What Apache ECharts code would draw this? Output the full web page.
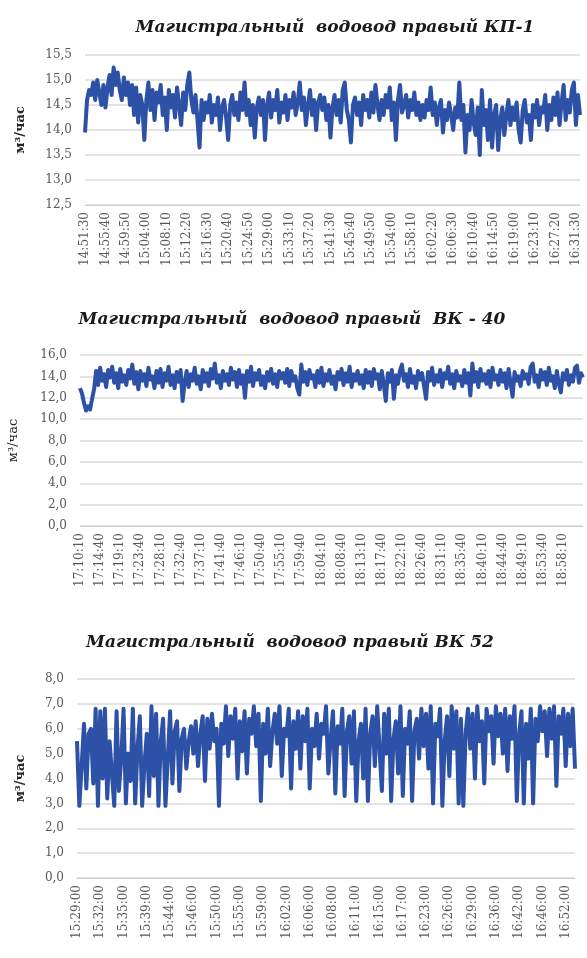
<!DOCTYPE html>
<html><head><meta charset="utf-8">
<script src="https://cdn.jsdelivr.net/npm/echarts/dist/echarts.min.js"></script>
<style>html,body{margin:0;padding:0;background:#fff}#c{width:587px;height:958px}</style>
</head><body><div id="c"></div>
<script>
const titles = [
  'Магистральный  водовод правый КП-1',
  'Магистральный  водовод правый  ВК - 40',
  'Магистральный  водовод правый ВК 52'
];
const yName = 'м³/час';

const ticks1 = ['14:51:30','14:55:40','14:59:50','15:04:00','15:08:10','15:12:20','15:16:30','15:20:40','15:24:50','15:29:00','15:33:10','15:37:20','15:41:30','15:45:40','15:49:50','15:54:00','15:58:10','16:02:20','16:06:30','16:10:40','16:14:50','16:19:00','16:23:10','16:27:20','16:31:30'];
const ticks2 = ['17:10:10','17:14:40','17:19:10','17:23:40','17:28:10','17:32:40','17:37:10','17:41:40','17:46:10','17:50:40','17:55:10','17:59:40','18:04:10','18:08:40','18:13:10','18:17:40','18:22:10','18:26:40','18:31:10','18:35:40','18:40:10','18:44:40','18:49:10','18:53:40','18:58:10'];
const ticks3 = ['15:29:00','15:32:00','15:35:00','15:39:00','15:44:00','15:46:00','15:50:00','15:55:00','15:59:00','16:02:00','16:06:00','16:08:00','16:11:00','16:15:00','16:17:00','16:23:00','16:26:00','16:29:00','16:36:00','16:42:00','16:46:00','16:52:00'];

const values1 = [
13.95,14.6,14.8,14.7,14.95,14.6,15.0,14.75,14.5,14.9,14.45,14.85,15.1,14.7,15.25,14.9,15.15,14.8,14.6,15.05,14.7,14.95,14.5,
14.9,14.3,14.85,14.15,14.7,14.5,13.8,14.6,14.95,14.4,14.8,14.2,14.75,14.55,14.9,14.3,14.65,14.0,14.8,14.45,14.7,14.25,14.85,14.5,14.1,14.75,14.4,14.9,15.15,14.6,14.35,14.7,14.2,13.65,
14.6,14.2,14.55,14.35,14.7,14.15,14.5,14.3,14.65,14.0,14.45,14.6,14.25,13.8,14.5,14.7,14.3,14.55,14.2,14.75,14.4,14.95,14.3,14.6,14.1,14.5,13.85,14.45,14.65,
14.3,14.6,13.8,14.5,14.75,14.25,14.6,14.4,14.8,14.15,14.55,14.35,14.7,14.2,14.6,14.45,14.75,14.3,14.55,14.95,14.4,14.65,14.1,14.5,14.8,14.3,14.6,14.0,14.55,14.7,
14.4,14.65,14.2,14.5,13.85,14.45,14.7,14.3,14.6,14.15,14.8,14.95,14.4,14.2,13.75,14.5,14.65,14.3,14.55,14.1,14.7,14.4,14.6,14.25,14.75,14.35,14.9,14.5,14.2,
14.6,14.3,14.7,14.45,14.85,14.2,14.55,13.8,14.6,14.9,14.35,14.5,14.7,14.25,14.6,14.4,14.75,14.3,14.55,14.2,
14.5,14.25,14.6,14.4,14.85,14.3,14.55,14.1,14.45,14.6,13.95,14.4,14.2,14.55,14.3,14.0,14.45,14.25,14.95,
14.2,14.5,13.55,14.3,14.0,14.6,14.15,13.9,14.45,13.5,14.8,14.1,14.4,13.8,14.6,13.65,14.3,14.5,13.6,14.2,14.45,13.9,14.3,14.6,14.1,
14.45,14.2,14.55,14.0,13.75,14.4,14.6,14.15,14.3,13.8,14.5,14.25,14.6,14.1,14.45,14.35,14.7,14.0,14.5,14.2,14.65,14.3,14.75,14.1,14.55,14.9,14.2,14.6,14.35,14.8,14.95,14.1,14.7,14.3
];
const values2 = [
12.9,12.4,11.5,10.8,11.2,10.9,11.9,12.8,
14.5,13.2,14.8,13.6,14.2,13.0,14.6,13.9,14.9,13.4,14.3,12.9,14.7,13.5,14.1,13.2,14.6,13.8,15.1,13.3,14.4,12.8,14.5,13.6,14.2,13.1,14.8,13.7,14.0,12.9,14.5,13.4,14.7,13.0,14.3,13.6,14.9,13.2,14.1,12.9,14.4,13.5,14.6,
11.7,13.4,14.5,13.0,14.2,13.6,14.8,13.3,14.0,12.8,14.6,13.5,14.3,13.1,14.7,13.8,15.2,13.4,14.1,12.9,14.5,13.6,14.2,13.2,14.8,13.7,14.4,13.0,14.6,13.3,14.1,12.0,14.5,13.5,14.9,13.1,14.3,13.7,14.6,13.2,14.0,12.9,14.4,13.6,14.7,13.3,14.2,13.0,14.5,13.8,
14.3,13.4,14.7,13.1,14.5,13.6,14.0,12.9,12.3,15.1,13.5,14.4,13.2,14.6,13.8,14.1,13.0,14.5,13.4,14.8,13.1,14.2,13.6,14.6,13.3,14.0,12.8,14.4,13.7,14.7,13.2,14.3,13.5,14.9,13.0,14.2,13.6,14.5,13.3,14.1,12.9,14.6,13.4,14.4,13.1,14.7,13.8,14.2,12.8,14.5,
13.2,11.7,14.3,13.5,14.6,11.9,14.1,13.3,14.5,15.1,13.6,14.2,13.0,14.7,13.4,14.0,12.9,14.5,13.7,14.3,13.1,11.9,14.4,13.6,14.8,13.2,14.1,13.5,14.6,13.0,14.3,13.8,14.9,13.3,14.2,12.9,14.5,13.6,14.0,13.1,14.6,13.4,14.3,12.2,15.2,13.5,14.4,13.0,14.7,13.6,
14.2,13.3,14.5,13.0,14.8,13.7,14.1,13.2,14.6,13.5,14.3,12.9,14.7,13.4,12.1,14.4,13.6,14.0,13.1,14.5,13.8,14.2,13.3,14.9,15.2,13.5,14.1,13.0,14.6,13.7,14.4,13.2,14.8,13.6,14.0,12.9,14.5,13.3,12.5,14.3,13.7,14.6,13.2,14.1,13.5,14.8,15.0,13.4,14.3,13.9
];
const values3 = [
5.5,2.9,4.5,6.2,3.6,5.8,6.0,3.8,6.8,2.9,6.7,
4.0,6.8,3.2,5.5,4.2,2.9,6.7,3.5,4.8,6.8,3.0,5.0,3.9,
6.8,3.0,5.2,6.5,2.9,4.6,5.8,3.3,6.9,4.1,6.6,2.9,5.5,
6.4,2.9,4.8,6.7,3.8,5.9,6.3,3.5,5.6,6.0,4.4,5.5,
6.1,5.0,6.3,4.5,5.8,6.5,3.9,6.4,5.2,6.6,5.5,6.0,2.9,
6.2,5.4,6.9,4.9,6.5,5.6,6.8,4.0,6.3,5.1,6.7,4.2,6.4,5.8,6.9,5.3,6.6,
3.1,6.2,5.0,6.8,4.5,5.9,6.6,5.4,6.9,4.1,6.0,5.7,6.8,3.6,6.3,5.2,6.7,
4.4,6.5,5.5,6.8,3.6,6.0,5.3,6.6,4.8,6.2,5.8,6.9,4.2,5.6,6.7,3.4,6.1,5.4,
6.8,3.3,5.9,6.5,4.6,6.7,3.1,5.5,6.2,4.0,6.8,3.1,5.8,6.5,4.5,6.9,5.2,
3.5,6.6,5.0,6.8,3.1,5.6,6.3,4.2,6.9,3.3,6.0,5.4,6.7,3.1,5.9,6.4,4.8,
6.8,5.3,6.6,4.4,6.9,3.0,6.2,5.7,6.8,2.9,5.5,6.5,4.1,6.9,5.2,6.7,3.0,
6.4,2.9,5.8,6.8,5.2,6.6,4.0,6.9,5.5,6.3,3.8,6.8,5.9,6.5,4.6,6.9,5.7,
6.6,5.0,6.8,4.3,6.5,5.6,6.9,3.1,5.8,6.7,3.0,6.2,4.8,6.8,3.0,6.4,
5.5,6.9,5.9,6.7,4.9,6.8,5.6,6.9,3.7,6.5,5.8,6.8,4.5,6.6,5.3,6.8,4.4
];

const LINE = '#2d51a6';
const GRID_C = '#dadada';
const LBL = '#595959';
const FONT = 'DejaVu Serif';

const panels = [
  {vals: values1, ticks: ticks1, min: 12.5, max: 15.5, step: 0.5, grid: {left: 85, right: 7, top: 55, height: 150}, title: {x: 335, y: 19}, nameGap: 58, nameBold: true},
  {vals: values2, ticks: ticks2, min: 0, max: 16, step: 2, grid: {left: 80, right: 4, top: 355, height: 171}, title: {x: 292, y: 311}, nameGap: 60, nameBold: false},
  {vals: values3, ticks: ticks3, min: 0, max: 8, step: 1, grid: {left: 77, right: 12, top: 679, height: 199}, title: {x: 290, y: 634}, nameGap: 50, nameBold: true}
];

const chart = echarts.init(document.getElementById('c'), null, {renderer: 'canvas'});
const option = {
  animation: false,
  backgroundColor: '#fff',
  title: panels.map((p, i) => ({
    text: titles[i], left: p.title.x, top: p.title.y, padding: 0,
    textAlign: 'center', textVerticalAlign: 'top',
    textStyle: {fontFamily: FONT, fontStyle: 'italic', fontWeight: 'bold', fontSize: 17, color: '#1a1a1a'}
  })),
  grid: panels.map(p => Object.assign({containLabel: false, outerBoundsMode: 'none'}, p.grid)),
  xAxis: panels.map((p, i) => ({
    type: 'category', gridIndex: i, boundaryGap: false,
    data: p.vals.map((_, k) => String(k)),
    axisLine: {show: true, lineStyle: {color: '#cfcfcf', width: 1}},
    axisTick: {show: false},
    splitLine: {show: false},
    axisLabel: {
      interval: 9, rotate: 90, margin: 7, color: LBL, fontFamily: FONT, fontSize: 12,
      formatter: (v, idx) => (idx % 10 === 0 && p.ticks[idx / 10]) ? p.ticks[idx / 10] : ''
    }
  })),
  yAxis: panels.map((p, i) => ({
    type: 'value', gridIndex: i, min: p.min, max: p.max, interval: p.step,
    name: yName, nameLocation: 'middle', nameGap: p.nameGap, nameRotate: 90, nameMoveOverlap: false,
    nameTextStyle: {fontFamily: FONT, fontSize: 13, fontWeight: p.nameBold ? 'bold' : 'normal', color: '#262626'},
    axisLine: {show: false}, axisTick: {show: false},
    splitLine: {show: true, lineStyle: {color: GRID_C, width: 1.5}},
    axisLabel: {margin: 13, color: LBL, fontFamily: FONT, fontSize: 12,
      formatter: v => v.toFixed(1).replace('.', ',')}
  })),
  series: panels.map((p, i) => ({
    type: 'line', xAxisIndex: i, yAxisIndex: i, data: p.vals,
    symbol: 'none', smooth: false,
    lineStyle: {color: LINE, width: 4, join: 'round'}
  }))
};
chart.setOption(option);
</script>
</body></html>
